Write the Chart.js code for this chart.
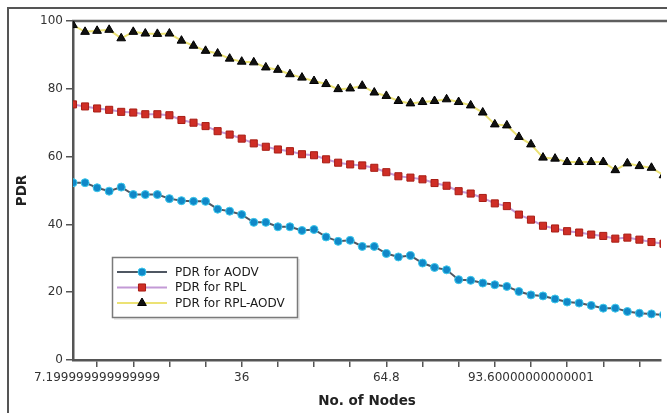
<!DOCTYPE html>
<html>
<head>
<meta charset="utf-8">
<script src="https://cdn.jsdelivr.net/npm/chart.js@4.4.1/dist/chart.umd.min.js"></script>
<style>
html,body{margin:0;padding:0;background:#fff;}
#wrap{width:667px;height:413px;position:relative;overflow:hidden;}
canvas{display:block;}
</style>
</head>
<body>
<div id="wrap"><canvas id="c" width="667" height="413"></canvas></div>
<script>
// ---- data ----
const nodeCounts = [2.4,4.8,7.2,9.6,12,14.4,16.8,19.2,21.6,24,26.4,28.8,31.2,33.6,36,38.4,40.8,43.2,45.6,48,
  50.4,52.8,55.2,57.6,60,62.4,64.8,67.2,69.6,72,74.4,76.8,79.2,81.6,84,86.4,88.8,91.2,93.6,96,
  98.4,100.8,103.2,105.6,108,110.4,112.8,115.2,117.6,120];

const pdrAODV = [52.3,52.3,50.8,49.8,51.0,48.8,48.8,48.8,47.6,47.0,
  46.8,46.8,44.5,43.9,42.9,40.6,40.6,39.3,39.3,38.2,
  38.5,36.3,35.0,35.3,33.5,33.5,31.4,30.4,30.8,28.6,
  27.3,26.6,23.7,23.5,22.7,22.2,21.7,20.2,19.2,18.9,
  18.0,17.1,16.8,16.1,15.3,15.3,14.3,13.8,13.6,13.3];

const pdrRPL = [75.4,74.8,74.2,73.8,73.2,73.0,72.5,72.5,72.2,70.8,
  70.0,69.0,67.5,66.5,65.3,63.9,62.9,62.1,61.6,60.7,
  60.4,59.2,58.2,57.7,57.4,56.7,55.4,54.2,53.8,53.3,
  52.2,51.4,49.8,49.1,47.8,46.2,45.4,42.9,41.4,39.6,
  38.8,38.0,37.6,37.0,36.6,35.8,36.1,35.5,34.8,34.3];

const pdrRPLAODV = [98.8,96.8,97.1,97.4,94.9,96.8,96.3,96.2,96.3,94.2,
  92.7,91.2,90.4,88.9,88.0,87.8,86.3,85.6,84.3,83.3,
  82.3,81.4,79.9,80.1,80.9,78.9,77.9,76.4,75.7,76.1,
  76.4,76.9,76.1,75.1,73.0,69.5,69.2,65.8,63.6,59.7,
  59.4,58.4,58.4,58.4,58.4,56.0,58.0,57.2,56.7,54.5];

const seriesLabels = ["PDR for AODV", "PDR for RPL", "PDR for RPL-AODV"];

const xTickValues = [7.2,14.4,21.6,28.8,36,43.2,50.4,57.6,64.8,72,79.2,86.4,93.6,100.8,108,115.2];
const xTickLabels = ["7.199999999999999","","","","36","","","","64.8","","","","93.60000000000001","","",""];
const yTickStep = 20;
const xTitle = "No. of Nodes";
const yTitle = "PDR";

// ---- chart ----
Chart.defaults.font.family = "'DejaVu Sans', sans-serif";

const styles = [
  {line:'#4f5762', fill:'#1088c8', border:'#3cc8ec', shape:'circle', r:4.0},
  {line:'#c39ad6', fill:'#cf2e26', border:'#a81d15', shape:'rect', r:5.0},
  {line:'#ece274', fill:'#111111', border:'#000000', shape:'triangle', r:5.0}
];
const seriesData = [pdrAODV, pdrRPL, pdrRPLAODV];

const datasets = seriesData.map((arr, k) => ({
  label: seriesLabels[k],
  data: nodeCounts.map((x, i) => ({x: x, y: arr[i]})),
  borderColor: styles[k].line,
  borderWidth: 2,
  pointStyle: styles[k].shape,
  pointRadius: styles[k].r,
  pointBackgroundColor: styles[k].fill,
  pointBorderColor: styles[k].border,
  pointBorderWidth: 1,
  tension: 0,
  fill: false
}));

function drawMarker(ctx, shape, x, y, r, fill, border) {
  ctx.save();
  ctx.fillStyle = fill; ctx.strokeStyle = border; ctx.lineWidth = 1;
  ctx.beginPath();
  if (shape === 'circle') {
    ctx.arc(x, y, r, 0, Math.PI * 2);
  } else if (shape === 'rect') {
    const s = r * Math.SQRT1_2;
    ctx.rect(x - s, y - s, 2 * s, 2 * s);
  } else {
    const w = r * Math.sqrt(3) / 2;
    ctx.moveTo(x, y - r);
    ctx.lineTo(x + w, y + r / 2);
    ctx.lineTo(x - w, y + r / 2);
    ctx.closePath();
  }
  ctx.fill(); ctx.stroke();
  ctx.restore();
}

const framePlugin = {
  id: 'frame',
  beforeDraw(chart) {
    const ctx = chart.ctx, a = chart.chartArea;
    ctx.save();
    ctx.fillStyle = '#fff';
    ctx.fillRect(0, 0, chart.width, chart.height);
    ctx.strokeStyle = '#555';
    ctx.lineWidth = 2;
    ctx.beginPath();
    ctx.moveTo(8, chart.height); ctx.lineTo(8, 8); ctx.lineTo(chart.width, 8);
    ctx.stroke();
    ctx.strokeStyle = '#5e5e5e';
    ctx.lineWidth = 2.5;
    ctx.beginPath();
    ctx.moveTo(a.left - 1, a.top); ctx.lineTo(chart.width, a.top);
    ctx.stroke();
    ctx.restore();
  },
  afterDraw(chart) {
    const ctx = chart.ctx;
    ctx.save();
    // legend box
    ctx.fillStyle = 'rgba(0,0,0,0.08)';
    ctx.fillRect(114, 259, 186, 61);
    ctx.fillStyle = '#fff';
    ctx.fillRect(112, 257, 186, 61);
    ctx.strokeStyle = '#7a7a7a';
    ctx.lineWidth = 1.5;
    ctx.strokeRect(112.5, 257.5, 185, 60);
    const rows = [272, 287.5, 303];
    chart.data.datasets.forEach((ds, k) => {
      const y = rows[k];
      ctx.strokeStyle = ds.borderColor;
      ctx.lineWidth = 2;
      ctx.beginPath(); ctx.moveTo(117, y); ctx.lineTo(167, y); ctx.stroke();
      drawMarker(ctx, ds.pointStyle, 142, y, ds.pointRadius, ds.pointBackgroundColor, ds.pointBorderColor);
      ctx.fillStyle = '#1a1a1a';
      ctx.font = "12px 'DejaVu Sans', sans-serif";
      ctx.textBaseline = 'middle';
      ctx.textAlign = 'left';
      ctx.fillText(ds.label, 175, y + 0.5);
    });
    ctx.restore();
  }
};

new Chart(document.getElementById('c'), {
  type: 'line',
  data: {datasets: datasets},
  plugins: [framePlugin],
  options: {
    responsive: false,
    animation: false,
    devicePixelRatio: 1,
    layout: {padding: {top: 21, right: 0, bottom: 0, left: 0}},
    plugins: {legend: {display: false}, tooltip: {enabled: false}},
    scales: {
      x: {
        type: 'linear',
        min: 2.4,
        max: 119.5,
        afterBuildTicks: (scale) => { scale.ticks = xTickValues.map(v => ({value: v})); },
        afterFit: (scale) => { scale.height = 53; },
        ticks: {
          autoSkip: false, maxRotation: 0, minRotation: 0,
          padding: 4,
          color: '#333',
          font: {size: 12},
          callback: (v, i) => xTickLabels[i]
        },
        grid: {display: true, drawOnChartArea: false, drawTicks: true, tickLength: 7, color: '#555', lineWidth: 1.5},
        border: {display: true, color: '#555', width: 2.5},
        title: {display: true, text: xTitle, color: '#222', font: {size: 13.5, weight: 'bold'}, padding: {top: 0, bottom: 3}}
      },
      y: {
        min: 0,
        max: 100,
        afterFit: (scale) => { scale.width = 73; },
        ticks: {stepSize: yTickStep, padding: 3, color: '#333', font: {size: 12}},
        grid: {display: true, drawOnChartArea: false, drawTicks: true, tickLength: 7, color: '#555', lineWidth: 1.5},
        border: {display: true, color: '#555', width: 2.5},
        title: {display: true, text: yTitle, color: '#222', font: {size: 13.5, weight: 'bold'}, padding: {top: 14, bottom: 0}}
      }
    }
  }
});
</script>
</body>
</html>
